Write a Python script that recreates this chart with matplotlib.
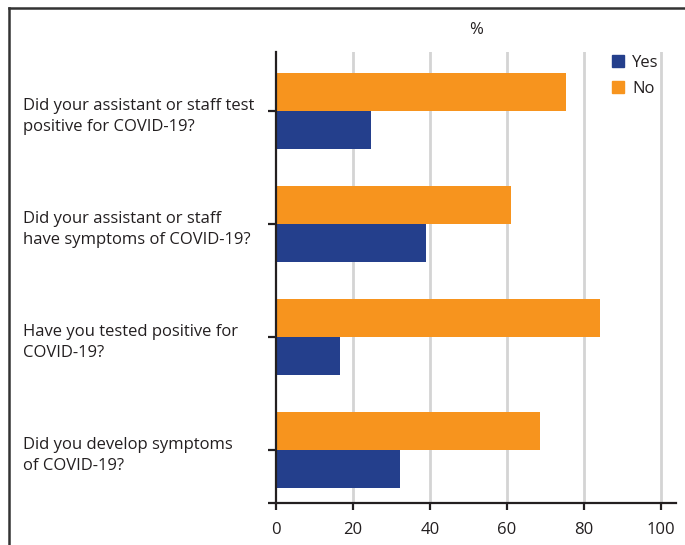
import matplotlib
matplotlib.use("Agg")
import matplotlib.pyplot as plt
from matplotlib.patches import Patch
from matplotlib.lines import Line2D
from matplotlib.transforms import blended_transform_factory

# data
questions = [
    "Did your assistant or staff test\npositive for COVID-19?",
    "Did your assistant or staff\nhave symptoms of COVID-19?",
    "Have you tested positive for\nCOVID-19?",
    "Did you develop symptoms\nof COVID-19?",
]
yes_pct = [24.7, 39.0, 16.7, 32.3]
no_pct = [75.3, 61.2, 84.2, 68.6]
x_ticks = [0, 20, 40, 60, 80, 100]

blue = "#243f8c"
orange = "#f7941e"
txt = "#231f20"

plt.rcParams["font.family"] = ["Open Sans", "DejaVu Sans"]

fig = plt.figure(figsize=(6.85, 5.45), dpi=100)
ax = fig.add_axes([276 / 685, 1 - 503 / 545, 400 / 685, 451 / 545])

pos = list(range(len(questions)))
h = 0.336
ax.barh([p - h / 2 for p in pos], no_pct, height=h, color=orange, zorder=2)
ax.barh([p + h / 2 for p in pos], yes_pct, height=h, color=blue, zorder=2)

ax.set_xlim(0, 104)
ax.set_ylim(3.47, -0.52)

# gridlines
for t in x_ticks[1:]:
    ax.axvline(t, color="#d4d4d4", lw=2, zorder=1)

ax.spines["top"].set_visible(False)
ax.spines["right"].set_visible(False)
for s in ["left", "bottom"]:
    ax.spines[s].set_linewidth(1.6)
    ax.spines[s].set_color("#231f20")
    ax.spines[s].set_zorder(3)

ax.set_xticks(x_ticks)
ax.set_xticklabels([str(t) for t in x_ticks], fontsize=12, color=txt)
ax.tick_params(axis="x", length=5, width=1.6, color="#231f20", pad=9)

# y ticks at group centres, plus one at the bottom edge
ax.set_yticks(pos + [3.47])
ax.set_yticklabels([""] * (len(pos) + 1))
ax.tick_params(axis="y", length=6, width=1.6, color="#231f20")

tr = blended_transform_factory(fig.transFigure, ax.transData)
for p, q in zip(pos, questions):
    ax.text(23 / 685, p + 0.05, q, transform=tr, ha="left", va="center",
            fontsize=12, color=txt, linespacing=1.4)

fig.text(476 / 685, 1 - 30 / 545, "%", ha="center", va="center",
         fontsize=12, color=txt)

handles = [Patch(color=blue, label="Yes"), Patch(color=orange, label="No")]
leg = fig.legend(handles=handles, loc="upper left",
                 bbox_to_anchor=(597 / 685, 1 - 40 / 545), frameon=False,
                 fontsize=12, handlelength=0.72, handleheight=0.72,
                 handletextpad=0.5, labelspacing=0.6)
for t in leg.get_texts():
    t.set_color(txt)

# frame around the figure (top and left)
fig.add_artist(Line2D([9 / 685, 1], [1 - 8 / 545, 1 - 8 / 545],
                      transform=fig.transFigure, color="#333333", lw=1.8))
fig.add_artist(Line2D([9 / 685, 9 / 685], [0, 1 - 8 / 545],
                      transform=fig.transFigure, color="#333333", lw=1.8))

fig.savefig("out.png", dpi=100)
